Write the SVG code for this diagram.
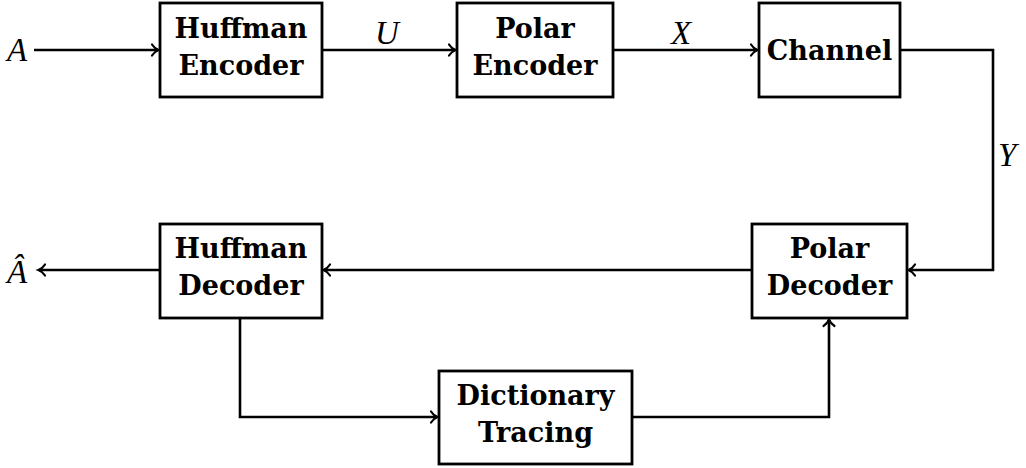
<svg xmlns="http://www.w3.org/2000/svg" width="1026" height="468" viewBox="0 0 1026 468">
  <style>
    .box { fill: #ffffff; stroke: #000000; stroke-width: 2.8; }
    .lbl { font-family: "DejaVu Serif", "Liberation Serif", serif; font-weight: bold; font-size: 27px; fill: #000000; text-anchor: middle; }
    .math { font-family: "Liberation Serif", "DejaVu Serif", serif; font-style: italic; font-size: 33px; fill: #000000; }
    .wire { fill: none; stroke: #000000; stroke-width: 2.6; marker-end: url(#arr); }
  </style>
  <defs>
    <!-- thin curved barb arrowhead -->
    <marker id="arr" viewBox="-8 -7 10 14" refX="0" refY="0" markerWidth="10" markerHeight="14" markerUnits="userSpaceOnUse" orient="auto" overflow="visible">
      <path d="M-6,-5.5 C-4,-2.2 -1.2,-0.7 0.6,0 C-1.2,0.7 -4,2.2 -6,5.5" fill="none" stroke="#000000" stroke-width="2.2" stroke-linecap="round"/>
    </marker>
  </defs>

  <g id="connectors">
    <path class="wire" d="M34,50 H158"/>
    <path class="wire" d="M322,50 H455"/>
    <path class="wire" d="M613,50 H757"/>
    <path class="wire" d="M900,50 H993 V270 H909"/>
    <path class="wire" d="M752,270 H324"/>
    <path class="wire" d="M160,270 H39"/>
    <path class="wire" d="M240,318 V417 H437"/>
    <path class="wire" d="M632,417 H829 V320"/>
  </g>

  <g id="huffman-encoder">
    <rect class="box" x="160" y="3" width="162" height="94"/>
    <text class="lbl" x="241" y="38">Huffman</text>
    <text class="lbl" x="241" y="75">Encoder</text>
  </g>

  <g id="polar-encoder">
    <rect class="box" x="457" y="3" width="156" height="94"/>
    <text class="lbl" x="535" y="38">Polar</text>
    <text class="lbl" x="535" y="75">Encoder</text>
  </g>

  <g id="channel">
    <rect class="box" x="759" y="3" width="141" height="94"/>
    <text class="lbl" x="829.5" y="60">Channel</text>
  </g>

  <g id="polar-decoder">
    <rect class="box" x="752" y="224" width="155" height="94"/>
    <text class="lbl" x="829.5" y="258">Polar</text>
    <text class="lbl" x="829.5" y="295">Decoder</text>
  </g>

  <g id="huffman-decoder">
    <rect class="box" x="160" y="224" width="162" height="94"/>
    <text class="lbl" x="241" y="258">Huffman</text>
    <text class="lbl" x="241" y="295">Decoder</text>
  </g>

  <g id="dictionary-tracing">
    <rect class="box" x="439" y="371" width="193" height="93"/>
    <text class="lbl" x="535.5" y="405">Dictionary</text>
    <text class="lbl" x="535.5" y="442">Tracing</text>
  </g>

  <g id="signal-labels">
    <text class="math" x="7" y="61">A</text>
    <text class="math" x="375" y="44">U</text>
    <text class="math" x="671" y="44">X</text>
    <text class="math" x="998" y="166">Y</text>
    <text class="math" x="7" y="283">Â</text>
  </g>
</svg>
